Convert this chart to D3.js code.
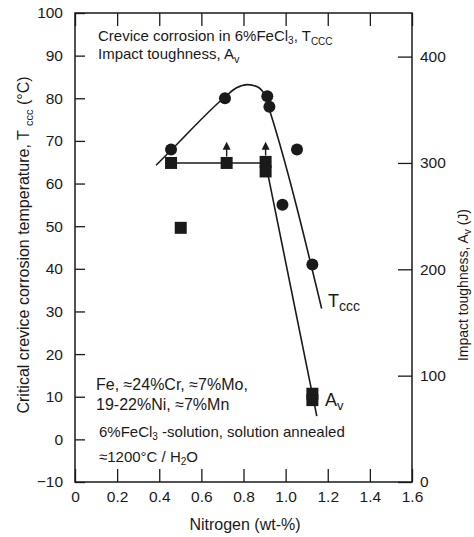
<!DOCTYPE html>
<html lang="en">
<head>
<meta charset="UTF-8">
<title>Tccc and impact toughness vs nitrogen</title>
<script src="https://d3js.org/d3.v7.min.js"></script>
<style>
  body { margin: 0; background: #fff; }
  svg text { font-family: "Liberation Sans", Arial, Helvetica, sans-serif; fill: #1a1a1a; }
</style>
</head>
<body>
<div id="chart"></div>
<script>
// x ticks
var xTicks = [0, 0.2, 0.4, 0.6, 0.8, 1.0, 1.2, 1.4, 1.6];
var xTickLabels = ["0", "0.2", "0.4", "0.6", "0.8", "1.0", "1.2", "1.4", "1.6"];
var tTicks = [-10, 0, 10, 20, 30, 40, 50, 60, 70, 80, 90, 100];
var aTicks = [0, 100, 200, 300, 400];

// Tccc measurements (circles), left axis
var tN = [0.456, 0.712, 0.913, 0.923, 0.985, 1.054, 1.127];
var tVal = [68, 80, 80.5, 78, 55, 68, 41];

// impact toughness (squares), right axis
var aN = [0.456, 0.72, 0.905, 0.905, 0.502, 1.127, 1.127];
var aVal = [300, 300, 301, 292, 239, 83, 77];

// arrows (value is a lower bound)
var arrowN = [0.72, 0.905];
var arrowFrom = [306, 307];
var arrowTo = [320, 320];

// fitted curves
var tLineN = [0.385, 0.456, 0.712, 0.765, 0.82, 0.865, 0.9, 0.925, 1.171];
var tLineVal = [64.3, 67.8, 80.3, 82.4, 83.2, 82.7, 80.8, 77, 30.7];
var aLineN = [0.435, 0.905, 1.148];
var aLineVal = [300, 300, 62];

var W = 474, H = 537;
var svg = d3.select("#chart").append("svg")
  .attr("width", W).attr("height", H);
svg.append("rect").attr("width", W).attr("height", H).attr("fill", "#fff");

var x = d3.scaleLinear().domain([0, 1.6]).range([75, 412]);
var yT = d3.scaleLinear().domain([-10, 100]).range([482, 13]);
var yA = d3.scaleLinear().domain([0, 441]).range([482, 13]);

var ink = "#1a1a1a";

// axes, ticks inward
var gl = svg.append("g").attr("transform", "translate(75,0)")
  .call(d3.axisLeft(yT).tickValues(tTicks).tickSize(-10).tickPadding(12));
var gr = svg.append("g").attr("transform", "translate(412,0)")
  .call(d3.axisRight(yA).tickValues(aTicks).tickSize(-14).tickPadding(8));
var gb = svg.append("g").attr("transform", "translate(0,482)")
  .call(d3.axisBottom(x).tickValues(xTicks).tickSize(-13).tickPadding(9)
    .tickFormat(function(d, i) { return xTickLabels[i]; }));
var gt = svg.append("g").attr("transform", "translate(0,13)")
  .call(d3.axisTop(x).tickValues(xTicks).tickSize(-13).tickFormat(""));

[gl, gr, gb, gt].forEach(function(g) {
  g.select(".domain").remove();
  g.selectAll(".tick line").attr("stroke", ink).attr("stroke-width", 1.3);
  g.selectAll(".tick text").attr("fill", ink).style("font-size", "15.5px")
    .style("font-family", "'Liberation Sans', Arial, sans-serif");
});
gt.selectAll(".tick text").remove();

// frame
svg.append("rect")
  .attr("x", 75).attr("y", 13).attr("width", 412 - 75).attr("height", 482 - 13)
  .attr("fill", "none").attr("stroke", ink).attr("stroke-width", 1.5);

// curves
var tLine = d3.line()
  .x(function(d) { return x(d[0]); })
  .y(function(d) { return yT(d[1]); })
  .curve(d3.curveMonotoneX);
svg.append("path")
  .datum(tLineN.map(function(n, i) { return [n, tLineVal[i]]; }))
  .attr("d", tLine).attr("fill", "none").attr("stroke", ink).attr("stroke-width", 1.6);

var aLine = d3.line()
  .x(function(d) { return x(d[0]); })
  .y(function(d) { return yA(d[1]); });
svg.append("path")
  .datum(aLineN.map(function(n, i) { return [n, aLineVal[i]]; }))
  .attr("d", aLine).attr("fill", "none").attr("stroke", ink).attr("stroke-width", 1.6);

// arrows
arrowN.forEach(function(n, i) {
  svg.append("line")
    .attr("x1", x(n)).attr("x2", x(n))
    .attr("y1", yA(arrowFrom[i])).attr("y2", yA(arrowTo[i]) + 6)
    .attr("stroke", ink).attr("stroke-width", 1.4);
  var tx = x(n), ty = yA(arrowTo[i]);
  svg.append("path")
    .attr("d", "M" + tx + "," + ty + "L" + (tx - 4) + "," + (ty + 8) + "L" + (tx + 4) + "," + (ty + 8) + "Z")
    .attr("fill", ink);
});

// markers
svg.selectAll(".sq").data(aN).join("rect")
  .attr("class", "sq")
  .attr("x", function(d) { return x(d) - 6; })
  .attr("y", function(d, i) { return yA(aVal[i]) - 6; })
  .attr("width", 12).attr("height", 12)
  .attr("fill", ink);

svg.selectAll(".dot").data(tN).join("circle")
  .attr("class", "dot")
  .attr("cx", function(d) { return x(d); })
  .attr("cy", function(d, i) { return yT(tVal[i]); })
  .attr("r", 6)
  .attr("fill", ink);

// text blocks; subscripts are shifted with baseline-shift
function addText(g, size, parts) {
  var t = g.append("text").style("font-size", size + "px");
  parts.forEach(function(p) {
    if (typeof p === "string") {
      t.append("tspan").style("font-size", size + "px").text(p);
    } else {
      t.append("tspan").attr("baseline-shift", -p.dy)
        .style("font-size", p.size + "px").text(p.t);
    }
  });
  return t;
}
function at(xp, yp, size, parts) {
  return addText(svg, size, parts).attr("x", xp).attr("y", yp);
}

at(98, 41, 15, ["Crevice corrosion in 6%FeCl", {t: "3", dy: 3, size: 10}, ", T", {t: "CCC", dy: 4, size: 10}]);
at(98, 59, 15, ["Impact toughness, A", {t: "v", dy: 4, size: 11}]);

at(96, 390, 16, ["Fe, \u224824%Cr, \u22487%Mo,"]);
at(96, 410, 16, ["19-22%Ni, \u22487%Mn"]);
at(99, 437, 15, ["6%FeCl", {t: "3", dy: 3, size: 10}, " -solution, solution annealed"]);
at(99, 462, 15, ["\u22481200\u00b0C / H", {t: "2", dy: 3, size: 10}, "O"]);

at(328, 307, 18, ["T", {t: "ccc", dy: 4, size: 14}]);
at(325, 406, 18, ["A", {t: "v", dy: 4, size: 13}]);

// axis titles
svg.append("text")
  .attr("x", 245).attr("y", 530)
  .attr("text-anchor", "middle")
  .style("font-size", "16px")
  .text("Nitrogen (wt-%)");

addText(svg, 16, ["Critical crevice corrosion temperature, T ", {t: "ccc", dy: 4, size: 11}, " (\u00b0C)"])
  .attr("transform", "translate(29,245) rotate(-90)")
  .attr("text-anchor", "middle");

addText(svg, 14, ["Impact toughness, A", {t: "v", dy: 3, size: 10}, " (J)"])
  .attr("transform", "translate(468,285) rotate(-90)")
  .attr("text-anchor", "middle");
</script>
</body>
</html>
